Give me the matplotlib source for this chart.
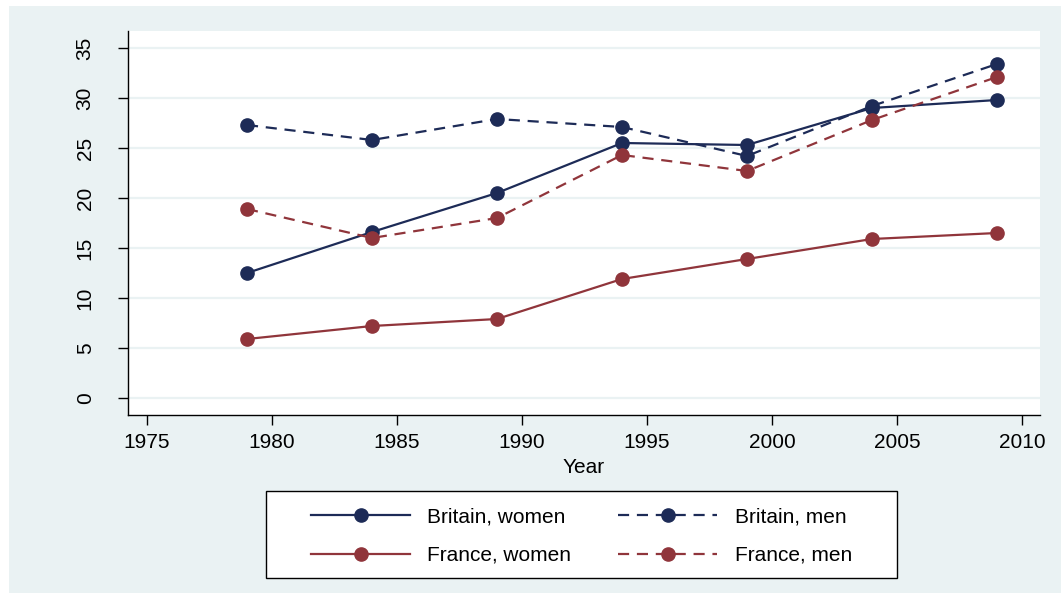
import matplotlib
matplotlib.use("Agg")
import matplotlib.pyplot as plt
from matplotlib.patches import Rectangle

years = [1979, 1984, 1989, 1994, 1999, 2004, 2009]
britain_women = [12.5, 16.6, 20.5, 25.5, 25.3, 29.0, 29.8]
britain_men = [27.3, 25.8, 27.9, 27.1, 24.2, 29.2, 33.4]
france_women = [5.9, 7.2, 7.9, 11.9, 13.9, 15.9, 16.5]
france_men = [18.9, 16.0, 18.0, 24.3, 22.7, 27.8, 32.1]
xticks = [1975, 1980, 1985, 1990, 1995, 2000, 2005, 2010]
yticks = [0, 5, 10, 15, 20, 25, 30, 35]

plt.rcParams['font.family'] = ['Liberation Sans', 'DejaVu Sans']
navy = '#1d2b57'
maroon = '#90353b'
bg = '#eaf2f3'

W, H = 1061, 593
fig = plt.figure(figsize=(W / 100, H / 100), dpi=100)
fig.patch.set_facecolor('white')
fig.patches.append(Rectangle((9 / W, 0), 1 - 9 / W, 1 - 6 / H, transform=fig.transFigure,
                             facecolor=bg, edgecolor='none', zorder=-10))

ax = fig.add_axes([128 / W, 1 - 415 / H, (1040 - 128) / W, (415 - 31) / H])
ax.set_facecolor('white')

lw = 1.6
ms = 9.5
kw = dict(marker='o', markersize=ms, linewidth=lw)
ax.plot(years, britain_women, color=navy, label='Britain, women', **kw)
ax.plot(years, britain_men, color=navy, linestyle=(0, (5, 3.5)), label='Britain, men', **kw)
ax.plot(years, france_women, color=maroon, label='France, women', **kw)
ax.plot(years, france_men, color=maroon, linestyle=(0, (5, 3.5)), label='France, men', **kw)

ax.set_xlim(1974.24, 2010.72)
ax.set_ylim(-1.7, 36.7)
ax.set_xticks(xticks)
ax.set_yticks(yticks)
ax.set_yticklabels([str(v) for v in yticks], rotation=90, va='center')
ax.grid(axis='y', color=bg, linewidth=1.6)
ax.set_axisbelow(True)
ax.tick_params(axis='both', labelsize=15, length=7, width=1.0, color='black')
ax.tick_params(axis='x', pad=6)
ax.tick_params(axis='y', pad=17)
for s in ['top', 'right']:
    ax.spines[s].set_visible(False)
for s in ['left', 'bottom']:
    ax.spines[s].set_linewidth(1.0)
ax.set_xlabel('Year', fontsize=15, labelpad=4)

# legend frame
fig.patches.append(Rectangle((266 / W, 1 - 578 / H), (897 - 266) / W, (578 - 491) / H,
                             transform=fig.transFigure, facecolor='white', edgecolor='black',
                             linewidth=1.0, zorder=1))
handles, labels = ax.get_legend_handles_labels()
order = [0, 2, 1, 3]
leg = fig.legend([handles[i] for i in order], [labels[i] for i in order], ncol=2,
                 loc='center left', bbox_to_anchor=(311 / W, 1 - 536 / H),
                 fontsize=15, handlelength=4.76, handletextpad=0.82,
                 frameon=False, borderaxespad=0, borderpad=0,
                 columnspacing=2.26, labelspacing=0.94)
leg.set_zorder(2)

fig.savefig('out.png', dpi=100, facecolor=fig.get_facecolor())
